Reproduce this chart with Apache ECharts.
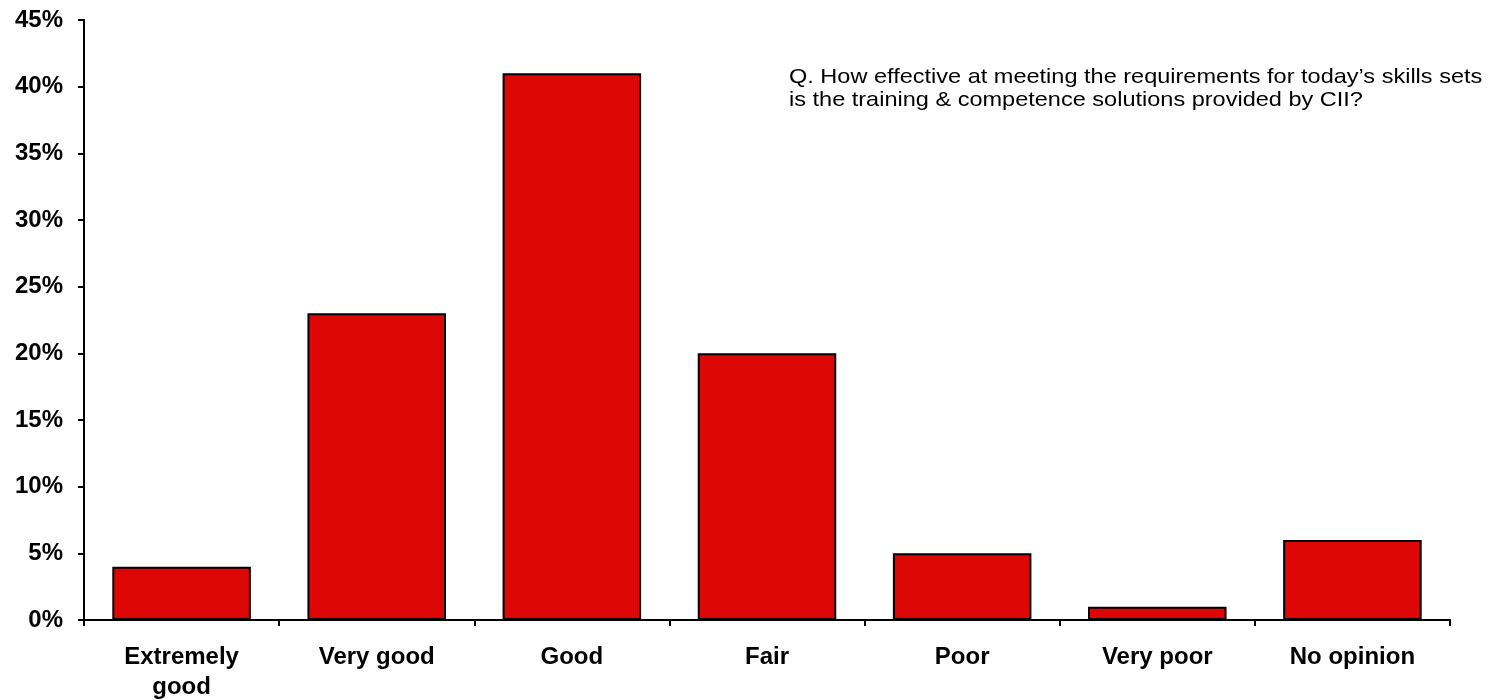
<!DOCTYPE html>
<html lang="en">
<head>
  <meta charset="UTF-8">
  <title>Training & competence effectiveness</title>
  <script src="https://cdn.jsdelivr.net/npm/echarts@6/dist/echarts.min.js"></script>
  <style>
    body { margin: 0; background: #fff; }
    #main { width: 1502px; height: 700px; }
  </style>
</head>
<body>
  <div id="main"></div>
  <script>
  const categories = ['Extremely\ngood', 'Very good', 'Good', 'Fair', 'Poor', 'Very poor', 'No opinion'];
  const shares = [4, 23, 41, 20, 5, 1, 6];
  const questionText = 'Q. How effective at meeting the requirements for today\u2019s skills sets\nis the training & competence solutions provided by CII?';

  const myChart = echarts.init(document.getElementById('main'));
  const font = 'Arial, "Liberation Sans", sans-serif';

  myChart.setOption({
    animation: false,
    graphic: [{
      type: 'text',
      left: 789,
      top: 66,
      scaleX: 1.12,
      style: {
        text: questionText,
        font: '21px ' + font,
        lineHeight: 23,
        fill: '#000'
      }
    }],
    grid: { left: 84, right: 52, top: 20, bottom: 80, containLabel: false, outerBoundsMode: 'none' },
    xAxis: {
      type: 'category',
      data: categories,
      axisLine: { lineStyle: { color: '#000', width: 2 } },
      axisTick: { show: true, length: 6, lineStyle: { color: '#000', width: 2 } },
      axisLabel: { color: '#000', fontFamily: font, fontSize: 24, fontWeight: 'bold', margin: 22, lineHeight: 30, interval: 0 }
    },
    yAxis: {
      type: 'value',
      min: 0,
      max: 45,
      interval: 5,
      splitLine: { show: false },
      axisLine: { show: true, lineStyle: { color: '#000', width: 2 } },
      axisTick: { show: true, length: 6, lineStyle: { color: '#000', width: 2 } },
      axisLabel: { color: '#000', fontFamily: font, fontSize: 24, fontWeight: 'bold', margin: 21, formatter: '{value}%' }
    },
    series: [{
      type: 'bar',
      data: shares,
      barCategoryGap: '29%',
      itemStyle: { color: '#dd0806', borderColor: '#000', borderWidth: 2 }
    }]
  });
  </script>
</body>
</html>
